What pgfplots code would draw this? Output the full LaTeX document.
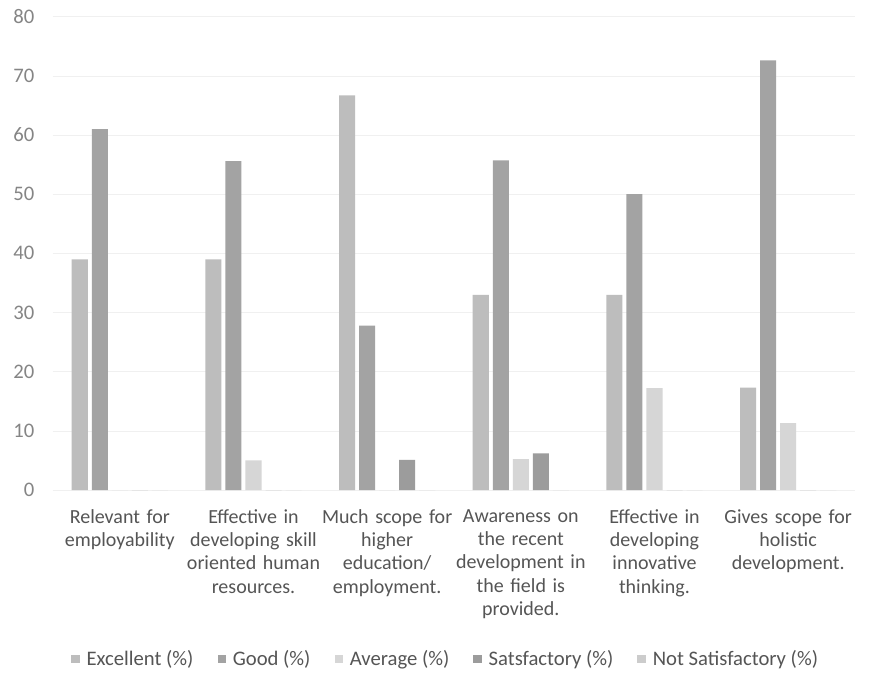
\documentclass[border=0pt]{standalone}
\usepackage{fontspec}
\setmainfont{Carlito}
\usepackage{pgfplots}
\pgfplotsset{compat=1.18}
\definecolor{cExc}{HTML}{BDBDBD}
\definecolor{cGood}{HTML}{A3A3A3}
\definecolor{cAvg}{HTML}{D6D6D6}
\definecolor{cSat}{HTML}{9C9C9C}
\definecolor{cNot}{HTML}{CCCCCC}
\definecolor{tickc}{HTML}{858585}
\definecolor{labc}{HTML}{555555}
\begin{document}
\begin{tikzpicture}
\useasboundingbox[fill=white] (0,0) rectangle (659.25pt,517.5pt);
\begin{axis}[
  at={(39.75pt,150pt)}, anchor=south west,
  scale only axis, width=601.5pt, height=355pt,
  xmin=-0.5, xmax=5.5, ymin=0, ymax=80,
  ytick={0,10,...,80},
  xtick={0,1,2,3,4,5},
  xticklabels={{Relevant for\\employability},{Effective in\\developing skill\\oriented human\\resources.},{Much scope for\\higher\\education/\\employment.},{Awareness on\\the recent\\development in\\the field is\\provided.},{Effective in\\developing\\innovative\\thinking.},{Gives scope for\\holistic\\development.}},
  axis line style={draw=none},
  major tick length=0pt,
  ymajorgrids, grid style={draw=black!6, line width=0.5pt},
  /pgf/number format/assume math mode=true,
  yticklabel style={font=\fontsize{15.5}{17}\selectfont, text=tickc, anchor=east, xshift=-10.5pt},
  xticklabel style={font=\fontsize{15}{17.5}\selectfont, text=labc, align=center, text width=110pt, anchor=north, yshift=-11pt},
  ybar, bar width=0.12,
  legend columns=5,
  legend style={at={(0.49,-0.357)}, anchor=center, draw=none, fill=none,
    font=\fontsize{15.5}{17}\selectfont, text=labc,
    /tikz/every even column/.append style={column sep=16pt}},
  legend image code/.code={\fill[#1] (0pt,-3.2pt) rectangle (6.4pt,3.2pt); \path (9.5pt,0pt);},
]
\addplot[fill=cExc, draw=none, bar shift=-0.3] coordinates {(0,39) (1,39) (2,66.7) (3,33) (4,33) (5,17.3)};
\addlegendentry{Excellent (\%)}
\addplot[fill=cGood, draw=none, bar shift=-0.15] coordinates {(0,61) (1,55.6) (2,27.8) (3,55.7) (4,50) (5,72.6)};
\addlegendentry{Good (\%)}
\addplot[fill=cAvg, draw=none, bar shift=0] coordinates {(0,0) (1,5) (2,0) (3,5.2) (4,17.2) (5,11.3)};
\addlegendentry{Average (\%)}
\addplot[fill=cSat, draw=none, bar shift=0.15] coordinates {(0,0) (1,0) (2,5.1) (3,6.2) (4,0) (5,0)};
\addlegendentry{Satsfactory (\%)}
\addplot[fill=cNot, draw=none, bar shift=0.3] coordinates {(0,0) (1,0) (2,0) (3,0) (4,0) (5,0)};
\addlegendentry{Not Satisfactory (\%)}
\end{axis}
\end{tikzpicture}
\end{document}
